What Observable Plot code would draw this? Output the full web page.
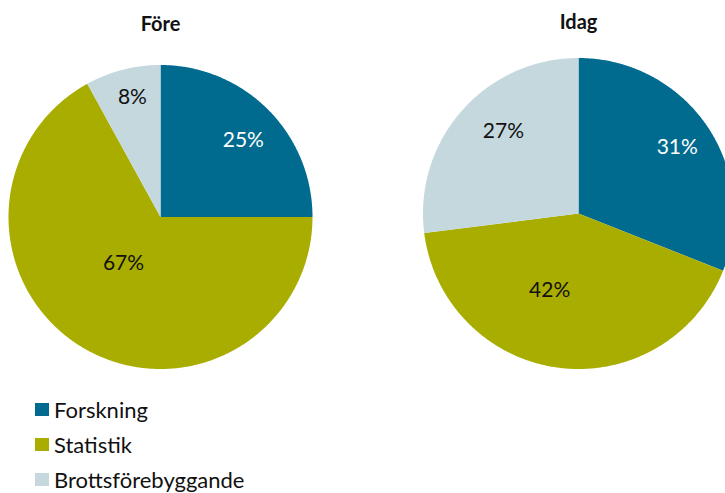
<!DOCTYPE html>
<html>
<head>
<meta charset="utf-8">
<script src="https://cdn.jsdelivr.net/npm/d3@7"></script>
<script src="https://cdn.jsdelivr.net/npm/@observablehq/plot@0.6"></script>
<style>
  html, body { margin: 0; padding: 0; background: #fff; }
  #wrap { width: 725px; height: 493px; overflow: hidden; position: relative; font-family: Lato, "Open Sans", sans-serif; }
  #wrap svg { display: block; }
  .legend { position: absolute; left: 35px; top: 392px; }
  .row { display: flex; align-items: center; height: 35px; font-size: 22px; line-height: 24px; color: #111; }
  .sw { width: 14px; height: 13px; margin-right: 5px; flex: none; }
</style>
</head>
<body>
<div id="wrap"></div>
<script>
// ---- data ----
const categories = ["Forskning", "Statistik", "Brottsförebyggande"];
const pieTitles = ["Före", "Idag"];
const foreValues = [25, 67, 8];
const idagValues = [31, 42, 27];
const colors = ["#006B8F", "#A8AD00", "#C4D8DE"];

// ---- layout (drawing config) ----
const W = 725, H = 390;
const pieLayout = [
  {cx: 160, cy: 216.5, r: 152, titleY: 24, labels: [[0.745, 2], [0.39, 8], [0.81, 1.2]]},
  {cx: 578, cy: 213, r: 155.5, titleY: 22, labels: [[0.765, 0.3], [0.53, 13.3], [0.715, 6.1]]}
];
const labelFill = ["#ffffff", "#111111", "#111111"];
const pieValues = [foreValues, idagValues];

const slices = [];
const labels = [];
const titles = [];
pieValues.forEach((vals, p) => {
  const L = pieLayout[p];
  const total = d3.sum(vals);
  let acc = 0;
  titles.push({x: L.cx, y: L.titleY, text: pieTitles[p]});
  vals.forEach((v, i) => {
    const a0 = acc / total * 360;
    const a1 = (acc + v) / total * 360;
    acc += v;
    const key = p + "-" + i;
    const pt = (a, rr) => ({
      key, cat: categories[i],
      x: L.cx + rr * Math.sin(a * Math.PI / 180),
      y: L.cy - rr * Math.cos(a * Math.PI / 180)
    });
    slices.push({key, cat: categories[i], x: L.cx, y: L.cy});
    const n = Math.max(2, Math.ceil((a1 - a0) * 2));
    for (let k = 0; k <= n; k++) slices.push(pt(a0 + (a1 - a0) * k / n, L.r));
    const [f, da] = L.labels[i];
    const lp = pt((a0 + a1) / 2 + da, L.r * f);
    labels.push({x: lp.x, y: lp.y, text: v + "%", fill: labelFill[i]});
  });
});

const chart = Plot.plot({
  width: W,
  height: H,
  margin: 0,
  x: {domain: [0, W], range: [0, W], axis: null},
  y: {domain: [0, H], range: [0, H], axis: null},
  color: {domain: categories, range: colors},
  style: {fontFamily: "Lato, 'Open Sans', sans-serif", background: "#fff"},
  marks: [
    Plot.line(slices, {x: "x", y: "y", z: "key", fill: "cat", stroke: "none", curve: "linear-closed"}),
    Plot.text(labels, {x: "x", y: "y", text: "text", fill: d => d.fill, fontSize: 21, textAnchor: "middle", lineAnchor: "middle"}),
    Plot.text(titles, {x: "x", y: "y", text: "text", fill: "#111", fontSize: 20, fontWeight: "bold", textAnchor: "middle", lineAnchor: "middle"})
  ]
});

const wrap = document.getElementById("wrap");
wrap.appendChild(chart);

const legend = document.createElement("div");
legend.className = "legend";
categories.forEach((c, i) => {
  const row = document.createElement("div");
  row.className = "row";
  const sw = document.createElement("span");
  sw.className = "sw";
  sw.style.background = colors[i];
  const t = document.createElement("span");
  t.textContent = c;
  row.appendChild(sw);
  row.appendChild(t);
  legend.appendChild(row);
});
wrap.appendChild(legend);
</script>
</body>
</html>
